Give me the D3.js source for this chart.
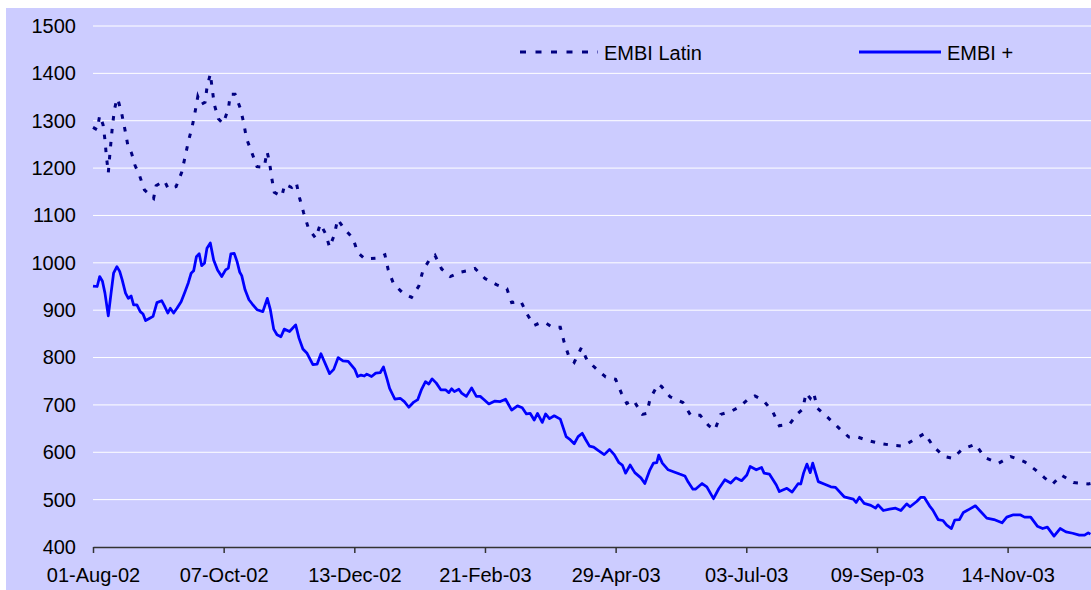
<!DOCTYPE html>
<html>
<head>
<meta charset="utf-8">
<script src="https://cdn.jsdelivr.net/npm/d3@7"></script>
<style>
  body { margin: 0; background: #fff; }
  text { font-family: "Liberation Sans", Arial, sans-serif; }
</style>
</head>
<body>
<script>
// Spreads in bp, x = trading day counted from 01-Aug-02
var latin = [
  [0,1286],[1.5,1281],[2.4,1311],[3.6,1292],[4.3,1260],[4.8,1226],[5.5,1190],[6.0,1225],
  [6.5,1258],[7.0,1289],[7.7,1323],[8.6,1347],[9.1,1342],[10.3,1316],[11.5,1281],[12.5,1249],
  [13.9,1231],[15.1,1206],[16.7,1185],[18.5,1154],[21.8,1136],[22.7,1163],[25.7,1173],[27.1,1156],
  [29.9,1161],[31.9,1191],[33.1,1223],[34.3,1256],[35.7,1288],[36.7,1318],[37.7,1351],[38.8,1334],
  [40.3,1339],[41.0,1370],[42.2,1399],[42.9,1367],[43.6,1335],[45.1,1304],[46.8,1294],[48.7,1325],
  [49.4,1356],[51.1,1356],[53.0,1326],[54.2,1296],[55.2,1263],[57.1,1233],[59.0,1203],[61.6,1202],
  [62.6,1235],[63.5,1212],[64.3,1179],[65.2,1149],[67.9,1140],[69.0,1166],[71.5,1159],[73.1,1170],
  [74.3,1137],[75.8,1105],[77.5,1073],[80.1,1052],[81.8,1082],[83.7,1061],[85.1,1033],[86.8,1059],
  [88.0,1092],[90.2,1073],[93.5,1052],[95.2,1022],[97.8,1008],[102.4,1010],[105.0,1017],[106.2,985],
  [108.1,956],[111.5,936],[114.6,927],[117.2,951],[118.7,984],[120.8,1004],[123.0,1016],[125.4,987],
  [128.5,971],[131.9,980],[135.2,984],[137.4,988],[141.0,967],[145.1,954],[148.9,945],[150.6,916],
  [153.9,919],[156.1,892],[158.7,868],[161.1,874],[162.8,873],[165.2,864],[168.1,864],[169.5,832],
  [171.2,802],[173.1,790],[175.7,821],[177.6,796],[180.5,779],[184.4,759],[188.0,754],[190.0,726],
  [192.0,703],[194.4,710],[197.6,680],[199.2,682],[200.4,713],[203.3,744],[204.5,739],[207.6,717],
  [212.2,705],[215.0,678],[218.4,678],[221.5,656],[223.7,647],[225.8,680],[229.7,687],[232.6,696],
  [235.7,712],[238.1,719],[241.2,709],[244.5,686],[246.9,656],[250.5,659],[253.4,681],[255.3,691],
  [256.5,725],[258.0,714],[259.2,726],[260.6,693],[264.2,674],[267.8,654],[271.9,632],[275.2,632],
  [278.6,625],[282.9,619],[287.2,615],[291.5,613],[295.4,627],[299.2,640],[302.3,612],[306.2,591],
  [309.3,587],[312.6,606],[317.4,617],[320.8,589],[325.8,577],[330.1,591],[335.1,580],[339.0,563],
  [342.3,546],[345.2,533],[348.3,552],[352.7,536],[358.0,533],[358.8,534]
];

var embiPlus = [
  [0,951],[1.5,950],[2.4,971],[3.4,961],[4.3,936],[5.5,888],[6.5,936],[7.4,978],[8.6,992],
  [9.6,982],[10.5,964],[11.7,936],[12.7,925],[13.7,930],[14.6,911],[15.8,911],[17.0,897],[18.0,892],
  [18.9,878],[20.1,882],[21.6,887],[23.0,916],[24.7,920],[25.7,909],[26.9,894],[27.8,904],[29.0,894],
  [30.2,904],[31.7,918],[33.1,939],[34.3,958],[35.3,978],[36.2,983],[37.2,1013],[38.2,1019],[39.1,994],
  [40.1,999],[41.0,1031],[42.2,1042],[43.4,1006],[44.8,985],[46.3,971],[47.7,985],[48.7,989],[49.6,1019],
  [50.8,1020],[51.8,1003],[52.8,980],[53.5,973],[54.7,943],[56.1,922],[57.3,913],[59.0,901],[61.1,897],
  [62.7,925],[63.8,901],[65.0,860],[66.2,848],[67.6,844],[68.8,860],[70.7,855],[72.9,869],[74.1,841],
  [75.5,818],[77.0,809],[79.1,785],[80.6,786],[82.0,808],[85.1,766],[86.6,775],[88.2,800],[89.9,793],
  [91.8,792],[94.2,775],[95.2,760],[96.4,763],[97.6,761],[98.5,765],[100.2,760],[101.7,767],[103.3,768],
  [104.5,780],[105.7,756],[106.7,735],[108.6,712],[110.5,714],[112.0,707],[113.6,695],[115.4,706],
  [116.8,711],[118.2,733],[119.6,749],[120.8,744],[122.0,755],[123.5,746],[125.1,732],[126.8,732],
  [128.0,726],[129.0,734],[130.0,728],[131.6,733],[132.6,725],[134.3,718],[136.2,736],[137.9,718],
  [139.3,718],[140.7,711],[142.4,702],[144.6,708],[146.5,707],[148.4,712],[150.6,689],[152.7,698],
  [154.4,694],[155.9,681],[157.3,682],[158.7,668],[159.9,682],[161.6,663],[162.8,681],[164.2,671],
  [165.9,677],[168.1,670],[170.2,633],[171.4,628],[173.1,618],[174.5,633],[176.0,640],[177.2,627],
  [178.6,613],[180.1,611],[181.7,604],[183.9,595],[185.8,606],[187.5,595],[189.2,578],[190.4,573],
  [191.6,556],[193.2,573],[194.9,557],[197.1,546],[198.5,534],[200.2,561],[201.6,577],[202.8,578],
  [203.5,594],[204.8,577],[206.9,563],[208.8,559],[211.0,554],[212.9,550],[214.1,537],[215.8,522],
  [216.7,522],[219.1,534],[220.8,527],[223.2,502],[225.1,523],[227.3,542],[229.4,535],[231.2,546],
  [233.3,540],[235.2,552],[236.4,570],[238.6,563],[240.5,568],[241.4,556],[243.3,554],[245.8,531],
  [246.9,517],[249.6,524],[251.5,516],[253.7,534],[254.6,533],[255.6,556],[256.8,575],[258.0,557],
  [258.9,577],[260.9,538],[263.0,533],[265.4,527],[267.1,526],[270.2,506],[273.5,501],[274.5,494],
  [275.7,505],[277.4,492],[279.8,488],[281.5,482],[282.4,489],[284.3,477],[286.5,480],[288.7,482],
  [290.6,477],[292.7,491],[293.9,485],[296.3,496],[297.8,505],[299.0,505],[300.9,487],[302.1,478],
  [304.0,458],[305.7,456],[307.1,446],[308.8,439],[310.0,457],[311.7,458],[313.1,473],[315.3,480],
  [317.4,487],[319.3,475],[321.5,461],[324.1,458],[327.0,451],[328.7,463],[331.1,468],[333.5,468],
  [335.1,463],[337.3,463],[339.7,444],[341.6,439],[343.3,442],[345.7,423],[347.9,439],[350.0,432],
  [352.4,429],[354.8,425],[356.7,425],[358.0,430],[358.8,427]
];

// category axis: a label every 47 trading days
var tickDays = [0, 47, 94, 141, 188, 235, 282, 329];
var tickLabels = ["01-Aug-02", "07-Oct-02", "13-Dec-02", "21-Feb-03",
  "29-Apr-03", "03-Jul-03", "09-Sep-03", "14-Nov-03"];
var yTicks = [400, 500, 600, 700, 800, 900, 1000, 1100, 1200, 1300, 1400, 1500];
var seriesNames = ["EMBI Latin", "EMBI +"];

var W = 1091, H = 590;

var x = d3.scaleLinear().domain([0, 359]).range([93, 1091]);
var y = d3.scaleLinear().domain([400, 1500]).range([547, 26]);

var svg = d3.select("body")
  .append("svg")
  .attr("width", W)
  .attr("height", H);

// chart area
svg.append("rect")
  .attr("x", 6)
  .attr("y", 8)
  .attr("width", W - 6)
  .attr("height", H - 8)
  .attr("fill", "#ccccff");

// horizontal gridlines
svg.append("g")
  .selectAll("line")
  .data(yTicks.slice(1))
  .join("line")
  .attr("x1", x(0))
  .attr("x2", W)
  .attr("y1", function(d) { return y(d); })
  .attr("y2", function(d) { return y(d); })
  .attr("stroke", "#fff")
  .attr("stroke-width", 1);

// Y axis labels (no axis line)
var yAxis = d3.axisLeft(y)
  .tickValues(yTicks)
  .tickFormat(d3.format("d"))
  .tickSize(0)
  .tickPadding(17);
svg.append("g")
  .attr("transform", "translate(" + x(0) + ",0)")
  .call(yAxis)
  .call(function(g) { g.select(".domain").remove(); })
  .selectAll("text")
  .attr("font-size", 20)
  .attr("font-family", "Liberation Sans, Arial, sans-serif")
  .attr("fill", "#000");

// X axis
var xAxis = d3.axisBottom(x)
  .tickValues(tickDays)
  .tickFormat(function(d, i) { return tickLabels[i]; })
  .tickSizeInner(6)
  .tickSizeOuter(0)
  .tickPadding(15);

var gx = svg.append("g")
  .attr("transform", "translate(0," + y(400) + ")")
  .call(xAxis);
gx.select(".domain").attr("stroke", "#333").attr("stroke-width", 1.5);
gx.selectAll(".tick line").attr("stroke", "#333").attr("stroke-width", 1.5);
gx.selectAll("text")
  .attr("font-size", 20)
  .attr("font-family", "Liberation Sans, Arial, sans-serif")
  .attr("fill", "#000");

var line = d3.line()
  .x(function(d) { return x(d[0]); })
  .y(function(d) { return y(d[1]); });

svg.append("path")
  .attr("d", line(latin))
  .attr("fill", "none")
  .attr("stroke", "#000080")
  .attr("stroke-width", 3)
  .attr("stroke-dasharray", "4.5,8.5");

svg.append("path")
  .attr("d", line(embiPlus))
  .attr("fill", "none")
  .attr("stroke", "#0000ff")
  .attr("stroke-width", 2.75)
  .attr("stroke-linejoin", "round");

// legend
var legend = [
  { name: seriesNames[0], x1: 520, x2: 598, color: "#000080", dash: "6,9.5", width: 3 },
  { name: seriesNames[1], x1: 859, x2: 941, color: "#0000ff", dash: null, width: 3 }
];
var lg = svg.append("g")
  .selectAll("g")
  .data(legend)
  .join("g");
lg.append("line")
  .attr("x1", function(d) { return d.x1; })
  .attr("x2", function(d) { return d.x2; })
  .attr("y1", 52)
  .attr("y2", 52)
  .attr("stroke", function(d) { return d.color; })
  .attr("stroke-width", function(d) { return d.width; })
  .attr("stroke-dasharray", function(d) { return d.dash; });
lg.append("text")
  .attr("x", function(d) { return d.x2 + 6; })
  .attr("y", 59.5)
  .attr("font-size", 20)
  .attr("fill", "#000")
  .text(function(d) { return d.name; });
</script>
</body>
</html>
